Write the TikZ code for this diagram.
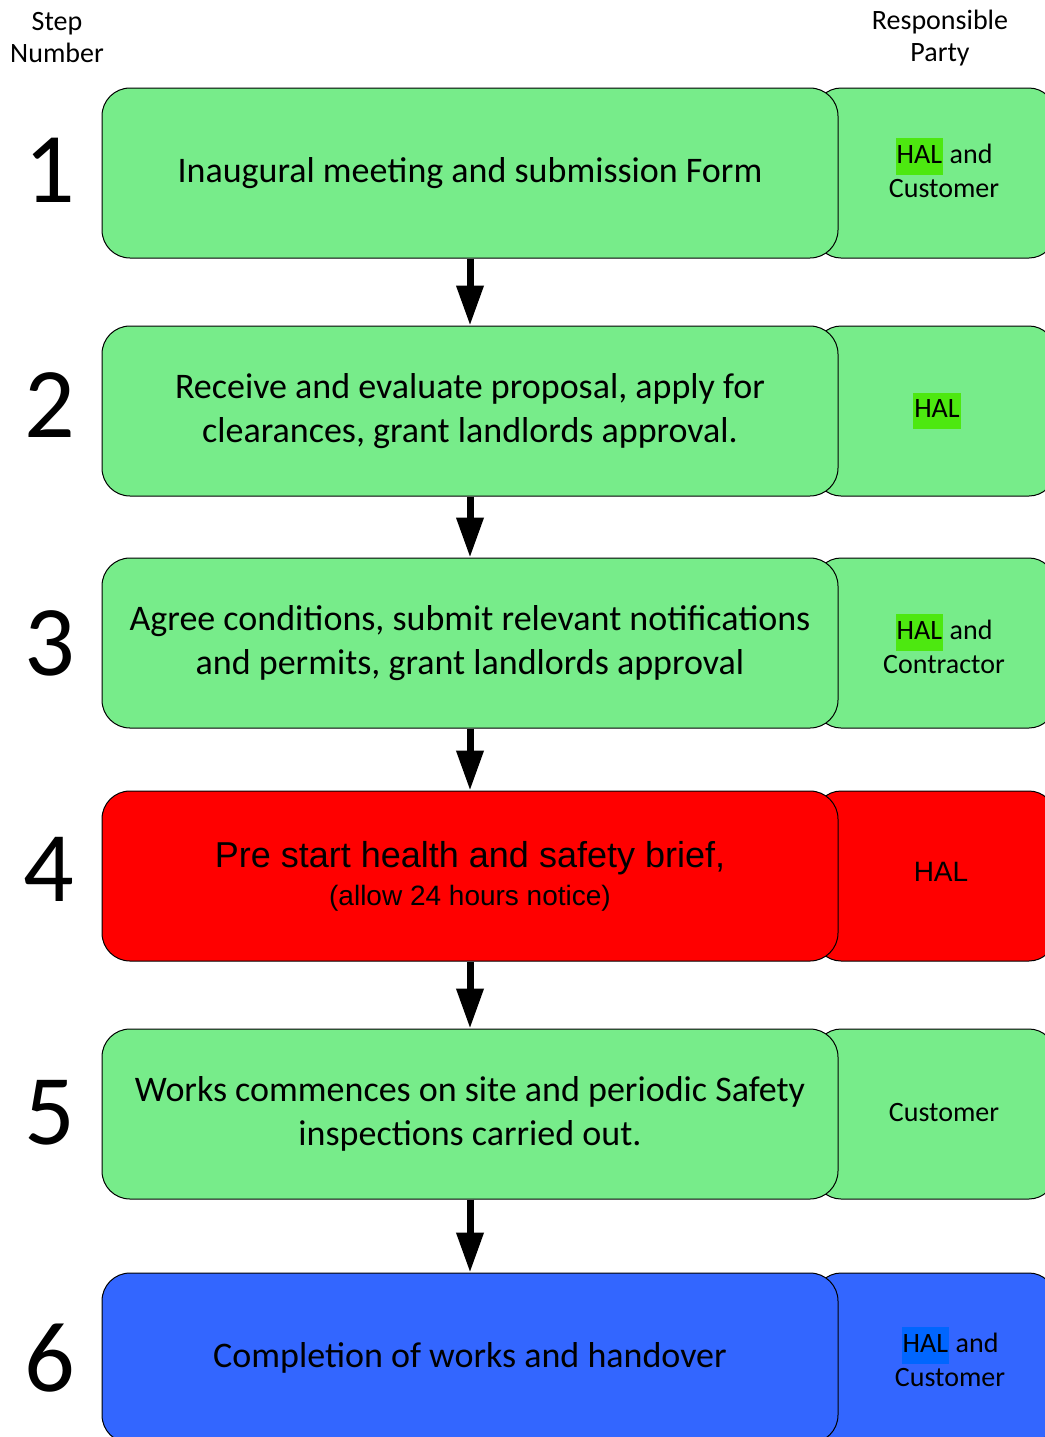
\documentclass[tikz,border=0pt]{standalone}
\usepackage{fontspec}
\setmainfont{Carlito}
\newfontfamily\arialfont{Liberation Sans}
\usetikzlibrary{arrows.meta}

\definecolor{boxgreen}{HTML}{77EC8A}
\definecolor{hlgreen}{HTML}{4DE810}
\definecolor{boxred}{HTML}{FF0000}
\definecolor{boxblue}{HTML}{3366FF}
\definecolor{hlblue}{HTML}{0066FF}

\newcommand{\halmark}[1]{{\setlength{\fboxsep}{0.6pt}\colorbox{#1}{\strut HAL}}}

\begin{document}
\begin{tikzpicture}[x=0.5pt, y=-0.5pt,
stepbox/.style={draw=black, line width=0.5pt, rounded corners=14pt, minimum width=368pt, minimum height=85pt, inner sep=0pt, align=center, font=\fontsize{18}{22}\selectfont},
partybox/.style={draw=black, line width=0.5pt, rounded corners=13pt, minimum width=120pt, minimum height=85pt, inner sep=0pt},
party/.style={align=center, inner sep=0pt, font=\fontsize{14}{17}\selectfont},
flow/.style={line width=3.5pt, -{Triangle[width=13pt, length=20pt]}}]
\tikzstyle{num}=[font=\fontsize{50}{60}\selectfont]
\tikzstyle{head}=[align=center, font=\fontsize{14}{16}\selectfont]
\def\lx{470}
\def\rx{935}
\useasboundingbox (0,0) rectangle (1045,1437);

% headings
\node[head] (stephead) at (57,38) {Step\\Number};
\node[head] (partyhead) at (940,38) {Responsible\\Party};

% responsible party
\node[partybox, fill=boxgreen] (party1) at (\rx,173) {};
\node[partybox, fill=boxgreen] (party2) at (\rx,411) {};
\node[partybox, fill=boxgreen] (party3) at (\rx,643) {};
\node[partybox, fill=boxred] (party4) at (\rx,876) {};
\node[partybox, fill=boxgreen] (party5) at (\rx,1114) {};
\node[partybox, fill=boxblue] (party6) at (\rx,1358) {};

\node[party] (who1) at (944,168) {\halmark{hlgreen} and\\Customer};
\node[party] (who2) at (937,411) {\halmark{hlgreen}};
\node[party] (who3) at (944,644) {\halmark{hlgreen} and\\Contractor};
\node[party] (who4) at (941,872) {\arialfont HAL};
\node[party] (who5) at (944,1113) {Customer};
\node[party] (who6) at (950,1357) {\halmark{hlblue}\ and\\Customer};

% steps
\node[stepbox, fill=boxgreen] (step1) at (\lx,173) {Inaugural meeting and submission Form};
\node[stepbox, fill=boxgreen] (step2) at (\lx,411) {Receive and evaluate proposal, apply for\\clearances, grant landlords approval.};
\node[stepbox, fill=boxgreen] (step3) at (\lx,643) {Agree conditions, submit relevant notifications\\and permits, grant landlords approval};
\node[stepbox, fill=boxred] (step4) at (\lx,876) {\arialfont Pre start health and safety brief,\\[-3pt]{\arialfont\fontsize{14}{17}\selectfont (allow 24 hours notice)}};
\node[stepbox, fill=boxgreen] (step5) at (\lx,1114) {Works commences on site and periodic Safety\\inspections carried out.};
\node[stepbox, fill=boxblue] (step6) at (\lx,1358) {Completion of works and handover};

% step numbers
\node[num] (num1) at (50,170) {1};
\node[num] (num2) at (50,405) {2};
\node[num] (num3) at (50,643) {3};
\node[num] (num4) at (49,869) {4};
\node[num] (num5) at (50,1113) {5};
\node[num] (num6) at (50,1358) {6};

% flow
\draw[flow] (step1.south) -- (step2.north);
\draw[flow] (step2.south) -- (step3.north);
\draw[flow] (step3.south) -- (step4.north);
\draw[flow] (step4.south) -- (step5.north);
\draw[flow] (step5.south) -- (step6.north);
\end{tikzpicture}
\end{document}
